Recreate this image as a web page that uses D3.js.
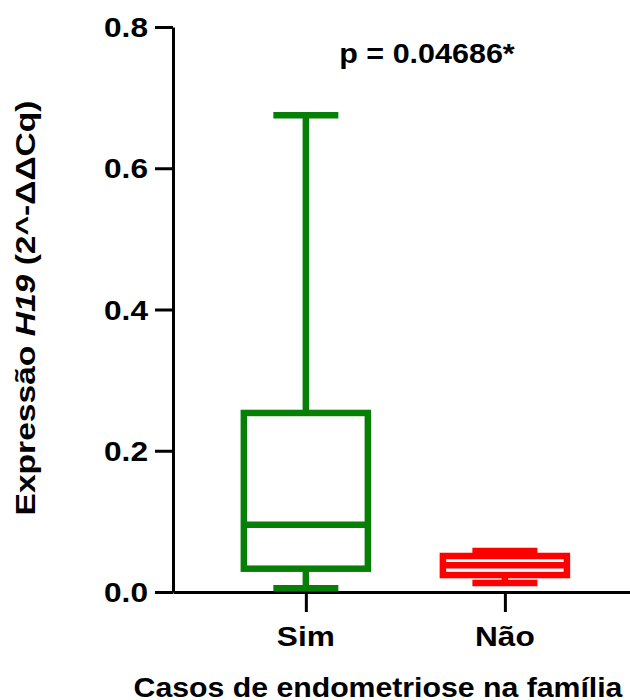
<!DOCTYPE html>
<html>
<head>
<meta charset="utf-8">
<script src="https://cdn.jsdelivr.net/npm/d3@7"></script>
<style>
  body { margin: 0; background: #fff; }
  svg text { font-family: Arial, "Liberation Sans", sans-serif; font-weight: bold; fill: #000; }
  .axis path, .axis line { stroke: #000; stroke-width: 3; }
</style>
</head>
<body>
<svg id="chart"></svg>
<script>
// five-number summaries
let groups = ["Sim", "Não"],
  mins = [0.0054, 0.0127],
  q1s = [0.033, 0.024],
  medians = [0.0953, 0.038],
  q3s = [0.2535, 0.051],
  maxs = [0.675, 0.058],
  colors = ["#077f07", "#ff0000"],
  yTicks = [0.0, 0.2, 0.4, 0.6, 0.8],
  pText = "p = 0.04686*",
  xTitle = "Casos de endometriose na família";

let width = 630,
  height = 700,
  margins = {left: 173, right: 0, top: 27, bottom: 108},
  stretch = 1.13;

let data = groups.map((g, i) => ({
  group: g, min: mins[i], q1: q1s[i], median: medians[i], q3: q3s[i], max: maxs[i], color: colors[i]
}));

let svg = d3.select("#chart").attr("width", width).attr("height", height);

let x = d3.scalePoint()
  .domain(groups)
  .range([margins.left, width - margins.right])
  .padding(0.648)
  .align(0.515);
let y = d3.scaleLinear()
  .domain([0, 0.8])
  .range([height - margins.bottom, margins.top]);

let boxW = 124, capW = 65;

// axes
let yAxis = svg.append("g")
  .attr("class", "axis")
  .attr("transform", `translate(${margins.left}, 0)`)
  .call(d3.axisLeft(y).tickValues(yTicks).tickFormat(d3.format(".1f")).tickSize(18).tickSizeOuter(0));
yAxis.selectAll("text").remove();

let xAxis = svg.append("g")
  .attr("class", "axis")
  .attr("transform", `translate(0, ${height - margins.bottom})`)
  .call(d3.axisBottom(x).tickSize(20).tickSizeOuter(0));
xAxis.selectAll("text").remove();

// boxes
let boxes = svg.append("g").selectAll("g")
  .data(data).enter()
  .append("g")
  .attr("stroke", d => d.color)
  .attr("stroke-width", 6.5)
  .attr("fill", "none");

boxes.append("line")
  .attr("x1", d => x(d.group)).attr("x2", d => x(d.group))
  .attr("y1", d => y(d.q3)).attr("y2", d => y(d.max));
boxes.append("line")
  .attr("x1", d => x(d.group)).attr("x2", d => x(d.group))
  .attr("y1", d => y(d.q1)).attr("y2", d => y(d.min));
boxes.append("line")
  .attr("x1", d => x(d.group) - capW / 2).attr("x2", d => x(d.group) + capW / 2)
  .attr("y1", d => y(d.max)).attr("y2", d => y(d.max));
boxes.append("line")
  .attr("x1", d => x(d.group) - capW / 2).attr("x2", d => x(d.group) + capW / 2)
  .attr("y1", d => y(d.min)).attr("y2", d => y(d.min));
boxes.append("rect")
  .attr("x", d => x(d.group) - boxW / 2)
  .attr("width", boxW)
  .attr("y", d => y(d.q3))
  .attr("height", d => y(d.q1) - y(d.q3))
  .attr("fill", "#fff");
boxes.append("line")
  .attr("x1", d => x(d.group) - boxW / 2).attr("x2", d => x(d.group) + boxW / 2)
  .attr("y1", d => y(d.median)).attr("y2", d => y(d.median));

// text (source fonts are a little wider than Arial)
svg.append("g").selectAll("text")
  .data(yTicks).enter()
  .append("text")
  .attr("text-anchor", "end")
  .attr("font-size", 28)
  .attr("transform", d => `translate(148, ${y(d) + 10}) scale(${stretch}, 1)`)
  .text(d => d3.format(".1f")(d));

svg.append("g").selectAll("text")
  .data(groups).enter()
  .append("text")
  .attr("text-anchor", "middle")
  .attr("font-size", 28)
  .attr("transform", d => `translate(${x(d)}, 646) scale(${stretch}, 1)`)
  .text(d => d);

svg.append("text")
  .attr("text-anchor", "middle")
  .attr("font-size", 28)
  .attr("transform", `translate(378, 697) scale(1.08, 1)`)
  .text(xTitle);

svg.append("text")
  .attr("text-anchor", "middle")
  .attr("font-size", 27)
  .attr("transform", `translate(427, 63) scale(${stretch}, 1)`)
  .text(pText);

let yTitle = svg.append("text")
  .attr("text-anchor", "middle")
  .attr("font-size", 28)
  .attr("transform", `translate(35, 308) rotate(-90) scale(1.2, 1)`);
yTitle.append("tspan").text("Expressão ");
yTitle.append("tspan").attr("font-style", "italic").text("H19");
yTitle.append("tspan").text(" (2^-ΔΔCq)");
</script>
</body>
</html>
